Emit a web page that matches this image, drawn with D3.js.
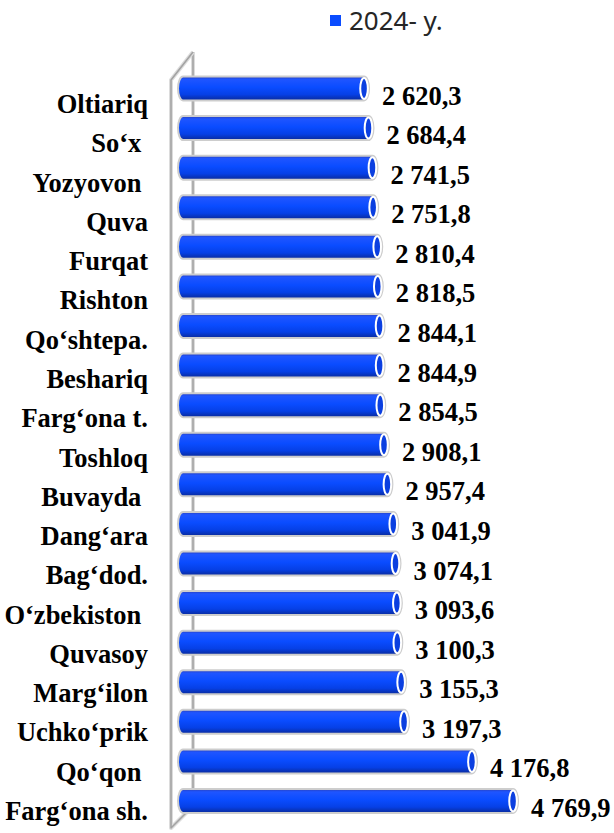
<!DOCTYPE html>
<html>
<head>
<meta charset="utf-8">
<script src="https://cdn.jsdelivr.net/npm/d3@7"></script>
<style>
  body { margin: 0; background: #fff; }
  text { white-space: pre; }
</style>
</head>
<body>
<svg id="chart"></svg>
<script>
// districts, top to bottom
let categories = ["Oltiariq", "So‘x ", "Yozyovon ", "Quva", "Furqat", "Rishton", "Qo‘shtepa.",
    "Beshariq", "Farg‘ona t.", "Toshloq", "Buvayda ", "Dang‘ara", "Bag‘dod.", "O‘zbekiston ",
    "Quvasoy", "Marg‘ilon", "Uchko‘prik", "Qo‘qon ", "Farg‘ona sh."];
let values2024 = [2620.3, 2684.4, 2741.5, 2751.8, 2810.4, 2818.5, 2844.1, 2844.9, 2854.5,
    2908.1, 2957.4, 3041.9, 3074.1, 3093.6, 3100.3, 3155.3, 3197.3, 4176.8, 4769.9];
let seriesName = "2024- y.";

let width = 614;
let height = 833;

let svg = d3.select("#chart")
    .attr("width", width)
    .attr("height", height);

let defs = svg.append("defs");
let grad = defs.append("linearGradient")
    .attr("id", "cyl")
    .attr("x1", 0).attr("y1", 0).attr("x2", 0).attr("y2", 1);
[["0%", "#2a3fb8"], ["12%", "#1f55ff"], ["45%", "#0a4cff"], ["75%", "#0640e6"], ["100%", "#0a2a9a"]]
    .forEach(s => grad.append("stop").attr("offset", s[0]).attr("stop-color", s[1]));

let x = d3.scaleLinear()
    .domain([0, 5000])
    .range([187.4, 534]);

let y = d3.scalePoint()
    .domain(categories)
    .range([88.5, 801]);

// labels sit a bit lower than the bars (3d perspective)
let yLabel = d3.scalePoint()
    .domain(categories)
    .range([113, 820]);

let data = categories.map((c, i) => ({ name: c, value: values2024[i] }));

// walls
let wall = [[193, 52], [193, 806]];
let front = [[193, 52], [171, 80], [171, 828], [193, 806]];
let line = d3.line();
[wall, front].forEach(pts => {
    svg.append("path").attr("d", line(pts)).attr("fill", "none")
        .attr("stroke", "#dcdcdc").attr("stroke-width", 4).attr("stroke-linejoin", "round");
    svg.append("path").attr("d", line(pts)).attr("fill", "none")
        .attr("stroke", "#a3a3a3").attr("stroke-width", 1.6).attr("stroke-linejoin", "round");
});

let barLeft = 178;
let rx = 5, ry = 12;

let bars = svg.selectAll(".bar")
    .data(data)
    .enter()
    .append("g")
    .classed("bar", true);

bars.append("path")
    .attr("d", d => {
        let cy = y(d.name), l = barLeft + rx, r = x(d.value) - rx;
        return `M${l},${cy - ry}L${r},${cy - ry}A${rx},${ry} 0 0 1 ${r},${cy + ry}` +
            `L${l},${cy + ry}A${rx},${ry} 0 0 1 ${l},${cy - ry}Z`;
    })
    .attr("fill", "url(#cyl)")
    .attr("stroke", "#cdcdcd")
    .attr("stroke-width", 2);

bars.append("ellipse")
    .attr("cx", d => x(d.value) - rx)
    .attr("cy", d => y(d.name))
    .attr("rx", rx - 1.2)
    .attr("ry", ry - 1.5)
    .attr("fill", "#0b3fe0")
    .attr("stroke", "#ffffff")
    .attr("stroke-width", 2);

let fmt = v => {
    let s = v.toFixed(1).replace(".", ",");
    let parts = s.split(",");
    let int = parts[0].replace(/\B(?=(\d{3})+(?!\d))/g, " ");
    return int + "," + parts[1];
};

bars.append("text")
    .attr("x", d => x(d.value) + 13)
    .attr("y", d => y(d.name) + 16)
    .attr("font-family", "'Liberation Serif', 'Times New Roman', serif")
    .attr("font-weight", "bold")
    .attr("font-size", 26.5)
    .attr("fill", "#000")
    .text(d => fmt(d.value));

svg.selectAll(".cat")
    .data(data)
    .enter()
    .append("text")
    .classed("cat", true)
    .attr("x", 148)
    .attr("y", d => yLabel(d.name))
    .attr("text-anchor", "end")
    .attr("font-family", "'Liberation Serif', 'Times New Roman', serif")
    .attr("font-weight", "bold")
    .attr("font-size", 26.5)
    .attr("fill", "#000")
    .text(d => d.name);

// legend
let legend = svg.append("g");
legend.append("rect")
    .attr("x", 330).attr("y", 15).attr("width", 11).attr("height", 11)
    .attr("fill", "#0a4cff");
legend.append("text")
    .attr("x", 349).attr("y", 30)
    .attr("font-family", "'Noto Sans', sans-serif")
    .attr("font-size", 26)
    .attr("fill", "#262626")
    .text(seriesName);
</script>
</body>
</html>
